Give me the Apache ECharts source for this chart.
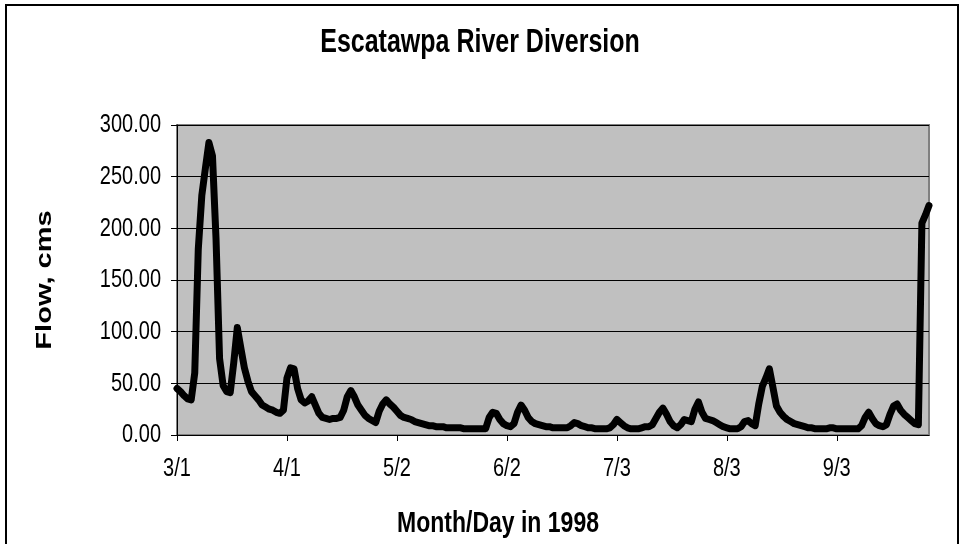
<!DOCTYPE html>
<html>
<head>
<meta charset="utf-8">
<script src="https://cdn.jsdelivr.net/npm/echarts@6/dist/echarts.min.js"></script>
<style>
  html, body { margin: 0; padding: 0; background: #fff; }
  #chart { width: 964px; height: 544px; }
</style>
</head>
<body>
<div id="chart"></div>
<script>
// daily flow, 3/1/1998 .. 9/29/1998 (cms)
const flowMar = [45, 42, 38, 35, 34, 60, 180, 232, 258, 283, 270, 190, 74, 48, 42, 41, 70, 104, 84, 65, 52, 42, 38, 34, 29, 27, 25, 24, 22, 21, 24];
const flowApr = [55, 65, 64, 45, 34, 31, 33, 37, 29, 21, 17, 16, 15, 16, 16, 17, 24, 37, 43, 37, 29, 24, 19, 16, 14, 12, 23, 30, 34, 30];
const flowMay = [27, 23, 19, 17, 16, 15, 13, 12, 11, 10, 9, 9, 8, 8, 8, 7, 7, 7, 7, 7, 6, 6, 6, 6, 6, 6, 6, 17, 22, 21, 15];
const flowJun = [11, 9, 8, 11, 22, 29, 24, 17, 13, 11, 10, 9, 8, 8, 7, 7, 7, 7, 7, 9, 12, 11, 9, 8, 7, 7, 6, 6, 6, 6];
const flowJul = [7, 10, 15, 12, 9, 7, 6, 6, 6, 7, 8, 8, 10, 16, 22, 26, 20, 13, 9, 7, 10, 15, 14, 13, 25, 32, 22, 16, 15, 14, 12];
const flowAug = [10, 8, 7, 6, 6, 6, 8, 13, 14, 11, 9, 30, 47, 55, 64, 46, 28, 22, 18, 15, 13, 11, 10, 9, 8, 7, 7, 6, 6, 6, 6];
const flowSep = [7, 7, 6, 6, 6, 6, 6, 6, 6, 9, 17, 22, 16, 11, 9, 8, 10, 20, 28, 30, 24, 20, 17, 14, 11, 10, 205, 213, 222];

const flow = [].concat(flowMar, flowApr, flowMay, flowJun, flowJul, flowAug, flowSep);
const tickLabels = ['3/1', '4/1', '5/2', '6/2', '7/3', '8/3', '9/3'];
const yTicks = [0, 50, 100, 150, 200, 250, 300];

// one category per day, labelled M/D
const days = [];
for (let i = 0; i < flow.length; i++) {
  const d = new Date(1998, 2, 1 + i);
  days.push((d.getMonth() + 1) + '/' + d.getDate());
}

const chart = echarts.init(document.getElementById('chart'));
const font = '"Liberation Sans", Arial, sans-serif';
// the original picture is stretched vertically, text included
const stretch = 1.32;

chart.setOption({
  animation: false,
  backgroundColor: '#fff',
  grid: {
    left: 177,
    right: 35,
    top: 125,
    bottom: 109,
    show: true,
    backgroundColor: '#c0c0c0',
    borderColor: '#808080',
    borderWidth: 2
  },
  xAxis: {
    type: 'category',
    data: days,
    boundaryGap: false,
    axisLine: { lineStyle: { color: '#000', width: 1 } },
    axisTick: { show: true, interval: 30, length: 6, lineStyle: { color: '#000' } },
    axisLabel: { show: false },
    splitLine: { show: false }
  },
  yAxis: {
    type: 'value',
    min: yTicks[0],
    max: yTicks[yTicks.length - 1],
    interval: 50,
    axisLine: { show: true, lineStyle: { color: '#000', width: 1 } },
    axisTick: { show: true, length: 6, lineStyle: { color: '#000' } },
    axisLabel: { show: false },
    splitLine: { show: true, lineStyle: { color: '#000', width: 1 } }
  },
  series: [{
    type: 'line',
    data: flow,
    symbol: 'none',
    smooth: false,
    lineStyle: { color: '#000', width: 7, cap: 'round', join: 'round' }
  }]
});

// texts drawn as graphics so they can carry the vertical stretch
function label(text, x, y, size, bold, align, extra) {
  return Object.assign({
    type: 'text',
    x: x,
    y: y,
    scaleY: stretch,
    silent: true,
    style: {
      text: text,
      fontFamily: font,
      fontSize: size,
      fontWeight: bold ? 'bold' : 'normal',
      fill: '#000',
      align: align,
      verticalAlign: 'middle'
    }
  }, extra || {});
}

const texts = [];
texts.push(label('Escatawpa River Diversion', 480, 43, 25, true, 'center'));
texts.push(label('Month/Day in 1998', 498, 524, 23, true, 'center'));
texts.push(label('Flow, cms', 45, 280, 22, true, 'center',
  { rotation: Math.PI / 2, scaleY: 1, scaleX: stretch }));

yTicks.forEach(v => {
  const py = chart.convertToPixel({ yAxisIndex: 0 }, v);
  texts.push(label(v.toFixed(2), 161, py, 20, false, 'right'));
});
tickLabels.forEach(c => {
  const px = chart.convertToPixel({ xAxisIndex: 0 }, c);
  texts.push(label(c, px, 469, 20, false, 'center'));
});

chart.setOption({
  graphic: [{
    type: 'rect',
    shape: { x: 6, y: 5, width: 952, height: 560 },
    style: { fill: 'none', stroke: '#000', lineWidth: 2 },
    silent: true
  }].concat(texts)
});
</script>
</body>
</html>
